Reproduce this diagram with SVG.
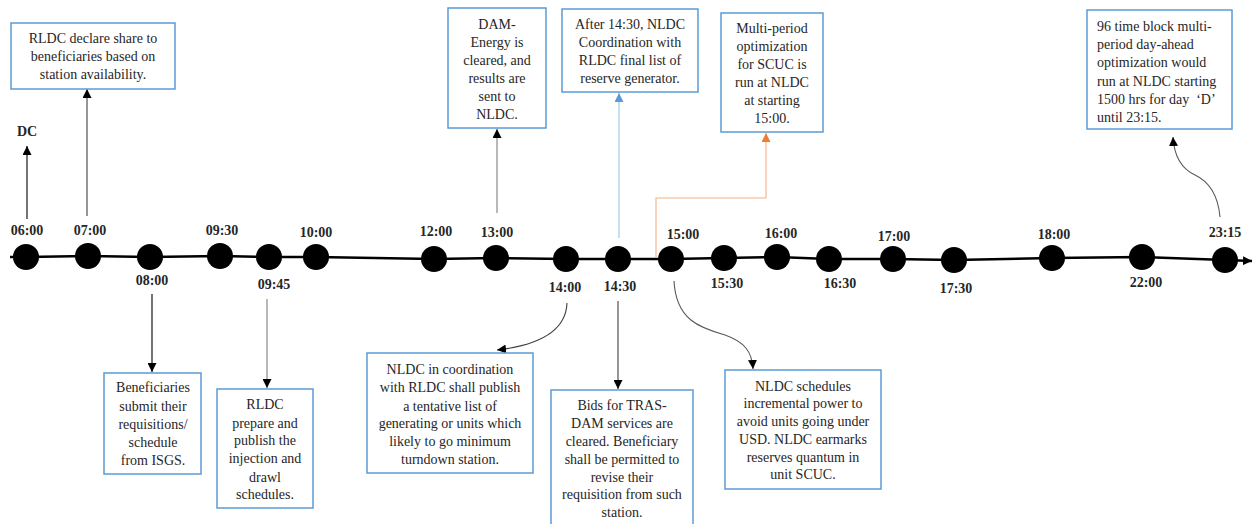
<svg xmlns="http://www.w3.org/2000/svg" width="1258" height="524" viewBox="0 0 1258 524">
<defs>
<style>
.box{fill:#fff;stroke:#5b9bd5;stroke-width:1.5}
.t{font-family:"Liberation Serif","Times New Roman",serif;font-size:14px;fill:#262626;text-anchor:middle}
.tl{font-family:"Liberation Serif","Times New Roman",serif;font-size:14px;fill:#262626;text-anchor:start}
.lb{font-family:"Liberation Serif","Times New Roman",serif;font-size:14px;font-weight:bold;fill:#262626;text-anchor:middle}
.dot{fill:#000}
.c{fill:none;stroke-width:1.1}
</style>
<marker id="ak" markerWidth="9" markerHeight="9" refX="9" refY="4.5" orient="auto" markerUnits="userSpaceOnUse"><path d="M0,0 L9,4.5 L0,9 Z" fill="#000"/></marker>
<marker id="ab" markerWidth="9" markerHeight="9" refX="9" refY="4.5" orient="auto" markerUnits="userSpaceOnUse"><path d="M0,0 L9,4.5 L0,9 Z" fill="#5b9bd5"/></marker>
<marker id="ao" markerWidth="9" markerHeight="9" refX="9" refY="4.5" orient="auto" markerUnits="userSpaceOnUse"><path d="M0,0 L9,4.5 L0,9 Z" fill="#ed7d31"/></marker>
</defs>

<g id="connectors">
<polyline points="10,257 26,257 88,256 150,257 220,256 269,257 316,257 434,259 496,258 566,259 618,259 671,259 724,258 777,257 829,259 893,259 954,260 1052,258 1142,257 1225,260 1252,261" fill="none" stroke="#000" stroke-width="2.5" marker-end="url(#ak)"/>
<path class="c" d="M27,219 V146" stroke="#000" marker-end="url(#ak)"/>
<path class="c" d="M87,216 V89" stroke="#404040" marker-end="url(#ak)"/>
<path class="c" d="M497,213 V129" stroke="#7f7f7f" marker-end="url(#ak)"/>
<path class="c" d="M619,238 V93" stroke="#9dc3e6" marker-end="url(#ab)"/>
<path class="c" d="M656,258 V198 H766 V133" stroke="#f4b183" marker-end="url(#ao)"/>
<path class="c" d="M152,294 V372" stroke="#000" marker-end="url(#ak)"/>
<path class="c" d="M267,299 V388" stroke="#7f7f7f" marker-end="url(#ak)"/>
<path class="c" d="M567,303 C566,330 540,345 497,350" stroke="#404040" marker-end="url(#ak)"/>
<path class="c" d="M618,301 V389" stroke="#404040" marker-end="url(#ak)"/>
<path class="c" d="M674,281 C676,320 700,328 725,335 C745,342 752,352 753,369" stroke="#595959" marker-end="url(#ak)"/>
<path class="c" d="M1220,217 C1218,195 1210,182 1195,175 C1180,168 1174,155 1173,137" stroke="#595959" marker-end="url(#ak)"/>
</g>

<g id="timeline-nodes">
<circle class="dot" cx="26" cy="257" r="13"/>
<circle class="dot" cx="88" cy="256" r="13"/>
<circle class="dot" cx="150" cy="257" r="13"/>
<circle class="dot" cx="220" cy="256" r="13"/>
<circle class="dot" cx="269" cy="257" r="13"/>
<circle class="dot" cx="316" cy="257" r="13"/>
<circle class="dot" cx="434" cy="259" r="13"/>
<circle class="dot" cx="496" cy="258" r="13"/>
<circle class="dot" cx="566" cy="259" r="13"/>
<circle class="dot" cx="618" cy="259" r="13"/>
<circle class="dot" cx="671" cy="259" r="13"/>
<circle class="dot" cx="724" cy="258" r="13"/>
<circle class="dot" cx="777" cy="257" r="13"/>
<circle class="dot" cx="829" cy="259" r="13"/>
<circle class="dot" cx="893" cy="259" r="13"/>
<circle class="dot" cx="954" cy="260" r="13"/>
<circle class="dot" cx="1052" cy="258" r="13"/>
<circle class="dot" cx="1142" cy="257" r="13"/>
<circle class="dot" cx="1225" cy="260" r="13"/>
</g>

<g id="time-labels">
<text class="lb" x="27" y="136">DC</text>
<text class="lb" x="27" y="235">06:00</text>
<text class="lb" x="90" y="235">07:00</text>
<text class="lb" x="152" y="285">08:00</text>
<text class="lb" x="222" y="235">09:30</text>
<text class="lb" x="274" y="289">09:45</text>
<text class="lb" x="316" y="237">10:00</text>
<text class="lb" x="436" y="236">12:00</text>
<text class="lb" x="497" y="237">13:00</text>
<text class="lb" x="565" y="292">14:00</text>
<text class="lb" x="620" y="291">14:30</text>
<text class="lb" x="683" y="239">15:00</text>
<text class="lb" x="727" y="288">15:30</text>
<text class="lb" x="781" y="238">16:00</text>
<text class="lb" x="840" y="288">16:30</text>
<text class="lb" x="894" y="241">17:00</text>
<text class="lb" x="956" y="293">17:30</text>
<text class="lb" x="1054" y="239">18:00</text>
<text class="lb" x="1146" y="287">22:00</text>
<text class="lb" x="1225" y="237">23:15</text>
</g>

<g id="box-rldc-declare">
<rect class="box" x="11" y="23" width="164" height="66"/>
<text class="t" x="93" y="43">RLDC declare share to</text>
<text class="t" x="93" y="61">beneficiaries based on</text>
<text class="t" x="93" y="79">station availability.</text>
</g>

<g id="box-dam-energy">
<rect class="box" x="448" y="8" width="98" height="120"/>
<text class="t" x="497" y="29">DAM-</text>
<text class="t" x="497" y="47">Energy is</text>
<text class="t" x="497" y="65">cleared, and</text>
<text class="t" x="497" y="83">results are</text>
<text class="t" x="497" y="101">sent to</text>
<text class="t" x="497" y="119">NLDC.</text>
</g>

<g id="box-after-1430">
<rect class="box" x="562" y="9" width="136" height="83"/>
<text class="t" x="630" y="29">After 14:30, NLDC</text>
<text class="t" x="630" y="47">Coordination with</text>
<text class="t" x="630" y="65">RLDC final list of</text>
<text class="t" x="630" y="83">reserve generator.</text>
</g>

<g id="box-multi-period">
<rect class="box" x="721" y="13" width="102" height="119"/>
<text class="t" x="772" y="33">Multi-period</text>
<text class="t" x="772" y="51">optimization</text>
<text class="t" x="772" y="69">for SCUC is</text>
<text class="t" x="772" y="87">run at NLDC</text>
<text class="t" x="772" y="105">at starting</text>
<text class="t" x="772" y="123">15:00.</text>
</g>

<g id="box-96-block">
<rect class="box" x="1087" y="10" width="145" height="119"/>
<text class="tl" x="1097" y="31">96 time block multi-</text>
<text class="tl" x="1097" y="49">period day-ahead</text>
<text class="tl" x="1097" y="67">optimization would</text>
<text class="tl" x="1097" y="86">run at NLDC starting</text>
<text class="tl" x="1097" y="104" xml:space="preserve">1500 hrs for day  ‘D’</text>
<text class="tl" x="1097" y="122">until 23:15.</text>
</g>

<g id="box-beneficiaries">
<rect class="box" x="104" y="373" width="97" height="101"/>
<text class="t" x="153" y="392">Beneficiaries</text>
<text class="t" x="153" y="411">submit their</text>
<text class="t" x="153" y="429">requisitions/</text>
<text class="t" x="153" y="447">schedule</text>
<text class="t" x="153" y="465">from ISGS.</text>
</g>

<g id="box-rldc-prepare">
<rect class="box" x="217" y="389" width="96" height="119"/>
<text class="t" x="265" y="409">RLDC</text>
<text class="t" x="265" y="428">prepare and</text>
<text class="t" x="265" y="445">publish the</text>
<text class="t" x="265" y="463">injection and</text>
<text class="t" x="265" y="482">drawl</text>
<text class="t" x="265" y="499">schedules.</text>
</g>

<g id="box-nldc-coordination">
<rect class="box" x="367" y="353" width="166" height="120"/>
<text class="t" x="450" y="374">NLDC in coordination</text>
<text class="t" x="450" y="392">with RLDC shall publish</text>
<text class="t" x="450" y="411">a tentative list of</text>
<text class="t" x="450" y="428">generating or units which</text>
<text class="t" x="450" y="446">likely to go minimum</text>
<text class="t" x="450" y="464">turndown station.</text>
</g>

<g id="box-bids-tras">
<rect class="box" x="551" y="390" width="142" height="136"/>
<text class="t" x="622" y="410">Bids for TRAS-</text>
<text class="t" x="622" y="428">DAM services are</text>
<text class="t" x="622" y="446">cleared. Beneficiary</text>
<text class="t" x="622" y="464">shall be permitted to</text>
<text class="t" x="622" y="482">revise their</text>
<text class="t" x="622" y="499">requisition from such</text>
<text class="t" x="622" y="517">station.</text>
</g>

<g id="box-nldc-schedules">
<rect class="box" x="725" y="370" width="156" height="119"/>
<text class="t" x="803" y="391">NLDC schedules</text>
<text class="t" x="803" y="408">incremental power to</text>
<text class="t" x="803" y="426">avoid units going under</text>
<text class="t" x="803" y="444">USD. NLDC earmarks</text>
<text class="t" x="803" y="462">reserves quantum in</text>
<text class="t" x="803" y="479">unit SCUC.</text>
</g>
</svg>
